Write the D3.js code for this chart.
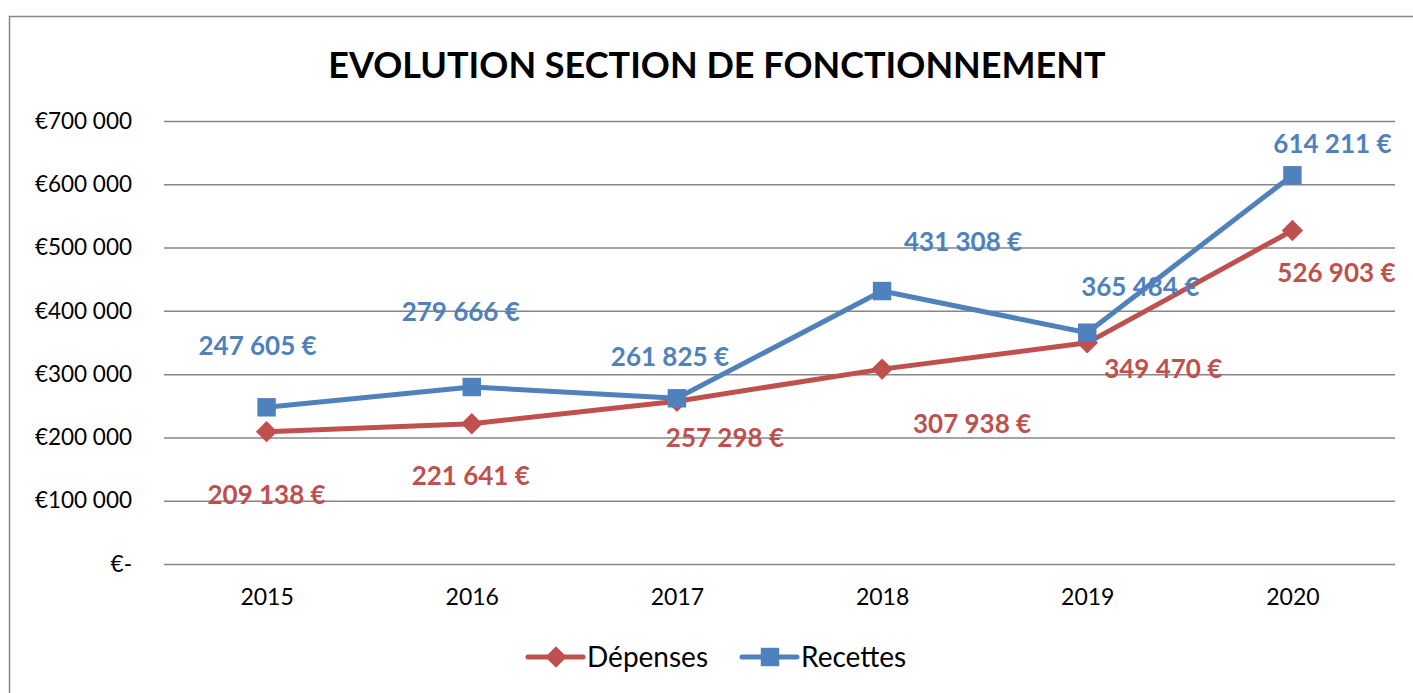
<!DOCTYPE html>
<html>
<head>
<meta charset="utf-8">
<script src="https://cdn.jsdelivr.net/npm/d3@7"></script>
<style>
    body { margin: 0; background: #fff; }
    text { font-family: Lato, "Noto Sans", sans-serif; }
</style>
</head>
<body>
<div id="main"></div>
<script>
// data
const years = ["2015", "2016", "2017", "2018", "2019", "2020"];
const depenses = [209138, 221641, 257298, 307938, 349470, 526903];
const recettes = [247605, 279666, 261825, 431308, 365484, 614211];
const yTicks = [0, 100000, 200000, 300000, 400000, 500000, 600000, 700000];

// where each data label sits relative to its point (px)
const depLabelOffsets = [[0, 63], [-1, 52], [48, 37], [90, 55], [76, 26], [44, 42]];
const recLabelOffsets = [[-9, -61], [-11, -75], [-7, -41], [81, -49], [53, -46], [40, -31]];

const red = '#C0504D';
const blue = '#4F81BD';

const W = 1413, H = 693;
const plot = {left: 164, right: 1395, top: 121, bottom: 564};

const svg = d3.select('#main').append('svg')
    .attr('width', W)
    .attr('height', H);

// outer frame (runs off the right and bottom edge)
svg.append('rect')
    .attr('x', 9.5).attr('y', 16.5)
    .attr('width', W + 20).attr('height', H + 20)
    .attr('fill', 'none')
    .attr('stroke', '#868686')
    .attr('stroke-width', 1.5);

const x = d3.scalePoint()
    .domain(years)
    .range([plot.left, plot.right])
    .padding(0.5);

const y = d3.scaleLinear()
    .domain([0, 700000])
    .range([plot.bottom, plot.top]);

const fmtNum = n => d3.format(',')(n).replace(/,/g, ' ');

// y axis with gridlines
const yAxis = d3.axisLeft(y)
    .tickValues(yTicks)
    .tickSize(-(plot.right - plot.left))
    .tickPadding(32)
    .tickFormat(d => d === 0 ? '€-' : '€' + fmtNum(d));

const gy = svg.append('g')
    .attr('transform', 'translate(' + plot.left + ',0)')
    .call(yAxis);
gy.select('.domain').remove();
gy.selectAll('line').attr('stroke', '#868686').attr('stroke-width', 1.5);
gy.selectAll('text').attr('font-size', 22.5).attr('fill', '#000')
    .style('font-family', 'Lato, "Noto Sans", sans-serif');

// x axis labels
const xAxis = d3.axisBottom(x).tickSize(0).tickPadding(25);
const gx = svg.append('g')
    .attr('transform', 'translate(0,' + plot.bottom + ')')
    .call(xAxis);
gx.select('.domain').remove();
gx.selectAll('text').attr('font-size', 23).attr('fill', '#000')
    .style('font-family', 'Lato, "Noto Sans", sans-serif');

// title
svg.append('text')
    .attr('x', 717)
    .attr('y', 78)
    .attr('text-anchor', 'middle')
    .attr('font-size', 36)
    .attr('font-weight', 'bold')
    .text('EVOLUTION SECTION DE FONCTIONNEMENT');

const line = d3.line()
    .x((d, i) => x(years[i]))
    .y(d => y(d));

function markerPath(diamond) {
    return d3.symbol().type(d3.symbolSquare).size(diamond ? 230 : 340)();
}

function drawSeries(values, color, diamond) {
    svg.append('path')
        .datum(values)
        .attr('d', line)
        .attr('fill', 'none')
        .attr('stroke', color)
        .attr('stroke-width', 5)
        .attr('stroke-linejoin', 'round');

    svg.selectAll(null)
        .data(values)
        .enter()
        .append('path')
        .attr('d', markerPath(diamond))
        .attr('transform', (d, i) => 'translate(' + x(years[i]) + ',' + y(d) + ')' + (diamond ? ' rotate(45)' : ''))
        .attr('fill', color);
}

function drawLabels(values, color, offsets) {
    svg.selectAll(null)
        .data(values)
        .enter()
        .append('text')
        .attr('x', (d, i) => x(years[i]) + offsets[i][0])
        .attr('y', (d, i) => y(d) + offsets[i][1])
        .attr('dy', '0.35em')
        .attr('text-anchor', 'middle')
        .attr('font-size', 26)
        .attr('font-weight', 'bold')
        .attr('fill', color)
        .text(d => fmtNum(d) + ' €');
}

drawSeries(depenses, red, true);
drawSeries(recettes, blue, false);
drawLabels(recettes, blue, recLabelOffsets);
drawLabels(depenses, red, depLabelOffsets);

// legend
const legend = [
    {name: 'Dépenses', color: red, diamond: true, x: 528},
    {name: 'Recettes', color: blue, diamond: false, x: 742}
];
const ly = 657;
legend.forEach(l => {
    svg.append('line')
        .attr('x1', l.x).attr('x2', l.x + 55)
        .attr('y1', ly).attr('y2', ly)
        .attr('stroke', l.color)
        .attr('stroke-width', 5)
        .attr('stroke-linecap', 'round');
    svg.append('path')
        .attr('d', markerPath(l.diamond))
        .attr('transform', 'translate(' + (l.x + 28) + ',' + ly + ')' + (l.diamond ? ' rotate(45)' : ''))
        .attr('fill', l.color);
    svg.append('text')
        .attr('x', l.x + 59)
        .attr('y', ly)
        .attr('dy', '0.35em')
        .attr('font-size', 28)
        .attr('fill', '#000')
        .text(l.name);
});
</script>
</body>
</html>
